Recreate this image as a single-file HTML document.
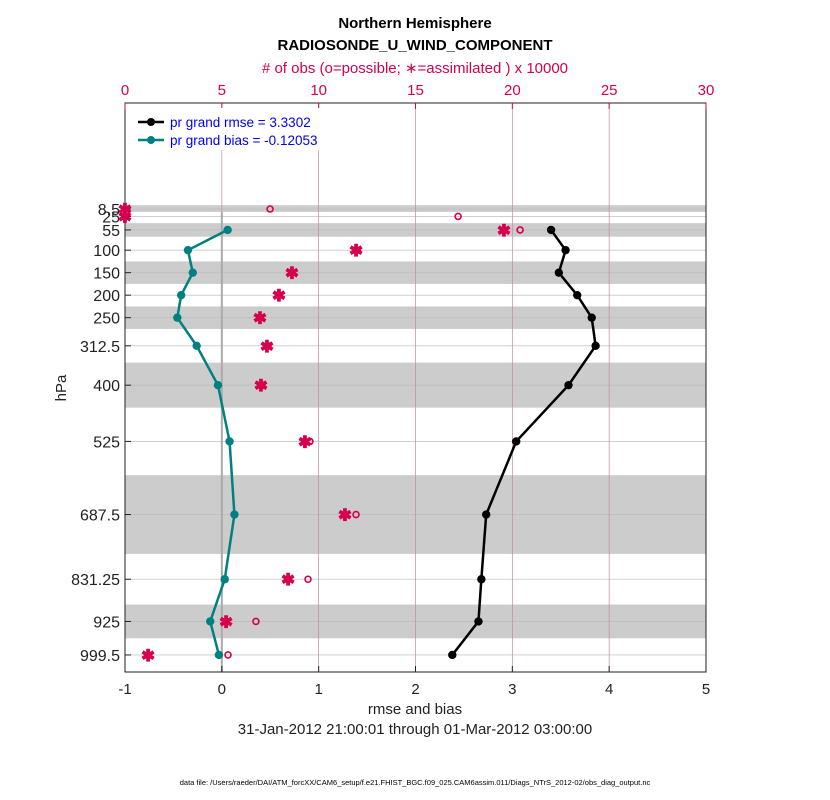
<!DOCTYPE html>
<html><head><meta charset="utf-8"><style>
body{margin:0;background:#fff;}
svg{display:block;font-family:"Liberation Sans",sans-serif;}
</style></head><body>
<svg id="c" width="830" height="800"></svg>
<script>
const levels=[8.5,25,55,100,150,200,250,312.5,400,525,687.5,831.25,925,999.5];
const levelLabels=["8.5","25","55","100","150","200","250","312.5","400","525","687.5","831.25","925","999.5"];
const rmse=[null,null,3.40,3.55,3.48,3.67,3.82,3.86,3.58,3.04,2.73,2.68,2.65,2.38];
const bias=[null,null,0.06,-0.35,-0.30,-0.42,-0.46,-0.26,-0.04,0.08,0.13,0.03,-0.12,-0.03];
const obsPossible=[7.49,17.2,20.4,12.0,8.6,7.95,6.97,7.38,7.07,9.55,11.93,9.45,6.76,5.32];
const obsAssim=[0,0,19.57,11.93,8.62,7.95,6.97,7.33,7.02,9.29,11.36,8.42,5.22,1.19];
const bands=[[0,15],[40,70],[125,175],[225,275],[350,450],[600,775],[887.5,962.5]];
const xTicks=[-1,0,1,2,3,4,5];
const topTicks=[0,5,10,15,20,25,30];

const L=125,R=706,T=103,B=672;
const X=v=>L+(v+1)/6*(R-L);
const XT=v=>L+v/30*(R-L);
const Y=p=>209+(p-8.5)*0.45;
const svg=document.getElementById('c');
const NS='http://www.w3.org/2000/svg';
function el(tag,attrs,parent){const e=document.createElementNS(NS,tag);for(const k in attrs)e.setAttribute(k,attrs[k]);(parent||svg).appendChild(e);return e;}
function txt(s,attrs){const e=el('text',attrs);e.textContent=s;return e;}

el('rect',{x:L,y:T,width:R-L,height:B-T,fill:'#fff'});
bands.forEach(b=>{const r=el('rect',{x:L,y:Y(b[0]),width:R-L,height:Y(b[1])-Y(b[0]),fill:'#cccccc'});

});
levels.forEach(p=>{const l=el('line',{x1:L,x2:R,y1:Y(p),y2:Y(p),stroke:'#bbb','stroke-width':0.8,opacity:0.8});

});
topTicks.forEach(t=>{const l=el('line',{x1:XT(t),x2:XT(t),y1:T,y2:B,stroke:'#c08aa0','stroke-width':0.7});

});
el('line',{x1:X(0),x2:X(0),y1:Y(15),y2:B,stroke:'#aaa','stroke-width':2});
el('rect',{x:L,y:T,width:R-L,height:B-T,fill:'none',stroke:'#222','stroke-width':1});

xTicks.forEach(t=>{el('line',{x1:X(t),x2:X(t),y1:B,y2:B-6,stroke:'#222'});
const s=txt(String(t),{x:X(t),y:694,'font-size':15,'text-anchor':'middle',fill:'#222'});

});
topTicks.forEach(t=>{el('line',{x1:XT(t),x2:XT(t),y1:T,y2:T+6,stroke:'#d6004e'});
const s=txt(String(t),{x:XT(t),y:95,'font-size':15,'text-anchor':'middle',fill:'#d6004e'});

});
levels.forEach((p,i)=>{el('line',{x1:L,x2:L+6,y1:Y(p),y2:Y(p),stroke:'#222'});
const s=txt(levelLabels[i],{x:L-5,y:Y(p)+6,'font-size':16,'text-anchor':'end',fill:'#222'});

});

function series(vals,color,name){let d='';vals.forEach((v,i)=>{if(v===null)return;d+=(d?'L':'M')+X(v)+','+Y(levels[i]);});
const p=el('path',{d:d,fill:'none',stroke:color,'stroke-width':2.5});


vals.forEach((v,i)=>{if(v===null)return;const c=el('circle',{cx:X(v),cy:Y(levels[i]),r:4.2,fill:color});

});}
series(rmse,'#000','rmse');
series(bias,'#008080','bias');
obsPossible.forEach((v,i)=>{const c=el('circle',{cx:XT(v),cy:Y(levels[i]),r:3,fill:'none',stroke:'#d6004e','stroke-width':1.6});

});
obsAssim.forEach((v,i)=>{const s=txt('✱',{x:XT(v),y:Y(levels[i])+6,'font-size':16,'font-weight':'bold','text-anchor':'middle',fill:'#d6004e',stroke:'#d6004e','stroke-width':0.6});

});

const lg=el('g',{});


el('rect',{x:130,y:108,width:215,height:42,fill:'#fff'},lg);
[['pr grand rmse = 3.3302','#000',122],['pr grand bias = -0.12053','#008080',140]].forEach(e=>{
el('line',{x1:138,x2:164,y1:e[2],y2:e[2],stroke:e[1],'stroke-width':2.5},lg);
el('circle',{cx:151,cy:e[2],r:4,fill:e[1]},lg);
const t=el('text',{x:170,y:e[2]+5,'font-size':13.5,fill:'#0000ee'},lg);t.textContent=e[0];

});

function label(s,x,y,size,fill,name,extra){const t=txt(s,Object.assign({x:x,y:y,'font-size':size,'text-anchor':'middle',fill:fill},extra||{}));

}
label('Northern Hemisphere',415,28,15,'#000','chart-title',{'font-weight':'bold'});
label('RADIOSONDE_U_WIND_COMPONENT',415,50,15,'#000','chart-subtitle',{'font-weight':'bold'});
label('# of obs (o=possible; \u2217=assimilated ) x 10000',415,73,15,'#d6004e','top-axis-title');
label('rmse and bias',415,714,15,'#222','x-axis-title');
label('31-Jan-2012 21:00:01 through 01-Mar-2012 03:00:00',415,734,15,'#222','date-range');
label('hPa',66,388,15,'#222','y-axis-title',{transform:'rotate(-90 66 388)'});
label('data file: /Users/raeder/DAI/ATM_forcXX/CAM6_setup/f.e21.FHIST_BGC.f09_025.CAM6assim.011/Diags_NTrS_2012-02/obs_diag_output.nc',415,785,7.5,'#000','data-file-note');
</script>
</body></html>
